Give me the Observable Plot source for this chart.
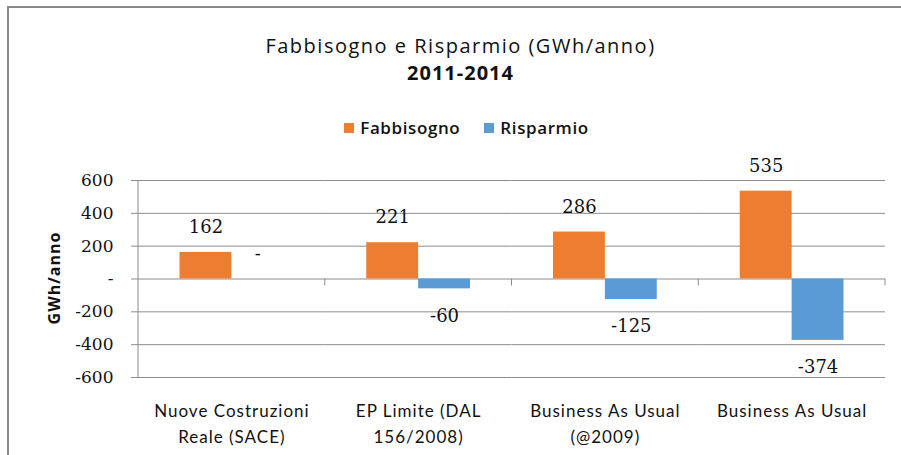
<!DOCTYPE html>
<html>
<head>
<meta charset="utf-8">
<script src="https://cdn.jsdelivr.net/npm/d3@7"></script>
<script src="https://cdn.jsdelivr.net/npm/@observablehq/plot@0.6"></script>
<style>
  html, body { margin: 0; padding: 0; background: #fff; }
  #wrap { position: relative; width: 901px; height: 455px; overflow: hidden; background: #fff; }
  #border { position: absolute; left: 7px; top: 6px; right: -10px; bottom: -10px; border-top: 2px solid #8a8a8a; border-left: 2px solid #8a8a8a; }
  #title { position: absolute; left: 10px; width: 901px; top: 32px; text-align: center; font-family: "Open Sans", sans-serif; color: #111; line-height: 27px; }
  #title .l1 { font-size: 20px; letter-spacing: 1.5px; }
  #title .l2 { font-size: 20px; font-weight: 700; letter-spacing: 1px; }
  #legend { position: absolute; left: 16px; width: 901px; top: 116px; text-align: center; font-family: "Open Sans", sans-serif; font-size: 17px; font-weight: 600; color: #111; letter-spacing: 0.6px; }
  #legend span.sw { display: inline-block; width: 10px; height: 10px; margin-right: 6px; vertical-align: 1px; }
  #legend span.item { margin: 0 12px; }
  #chart { position: absolute; left: 0; top: 0; }
  #ylabel { position: absolute; left: 54px; top: 278px; transform: translate(-50%, -50%) rotate(-90deg); font-family: "Open Sans", sans-serif; font-weight: 700; font-size: 16px; letter-spacing: 1px; color: #111; white-space: nowrap; }
  #chart text.cat { letter-spacing: 1px; }
</style>
</head>
<body>
<div id="wrap">
  <div id="border"></div>
  <div id="chart"></div>
  <div id="title"><div class="l1">Fabbisogno e Risparmio (GWh/anno)</div><div class="l2">2011-2014</div></div>
  <div id="legend"></div>
  <div id="ylabel">GWh/anno</div>
</div>
<script>
// ---- data ----
const categories = ["Nuove Costruzioni\nReale (SACE)", "EP Limite (DAL\n156/2008)", "Business As Usual\n(@2009)", "Business As Usual"];
const series = ["Fabbisogno", "Risparmio"];
const fabbisogno = [162, 221, 286, 535];
const risparmio = [0, -60, -125, -374];
const colors = ["#ED7D31", "#5B9BD5"];
const yTicks = [-600, -400, -200, 0, 200, 400, 600];

const rows = [];
categories.forEach((c, i) => {
  rows.push({cat: c, series: series[0], value: fabbisogno[i]});
  rows.push({cat: c, series: series[1], value: risparmio[i]});
});
const fmt = v => v === 0 ? "-" : String(v);

// legend
const legend = document.getElementById("legend");
legend.innerHTML = series.map((s, i) =>
  `<span class="item"><span class="sw" style="background:${colors[i]}"></span>${s}</span>`).join("");

const serif = "'DejaVu Serif', serif";

const chart = Plot.plot({
  width: 901,
  height: 455,
  marginLeft: 138,
  marginRight: 16,
  marginTop: 180,
  marginBottom: 78,
  style: {background: "transparent", overflow: "visible"},
  fx: {domain: categories, padding: 0, round: false},
  x: {domain: series, paddingInner: 0, paddingOuter: 0.8, round: false, axis: null},
  y: {domain: [yTicks[0], yTicks[yTicks.length - 1]]},
  color: {domain: series, range: colors},
  marks: [
    Plot.gridY(yTicks, {stroke: "#8c8c8c", strokeOpacity: 1, strokeWidth: 1}),
    Plot.axisY(yTicks, {tickSize: 7, tickPadding: 18, stroke: "#8c8c8c", tickFormat: fmt, fontSize: 17, fontFamily: serif, fill: "#111", label: null}),
    Plot.axisFx({anchor: "bottom", tickSize: 0, tickPadding: 21, label: null, fontSize: 17, lineHeight: 1.53, fontFamily: "Lato, sans-serif", fill: "#111", className: "cat"}),
    Plot.barY(rows, {fx: "cat", x: "series", y: "value", fill: "series"}),
    Plot.text(rows.filter(d => d.value >= 0), {fx: "cat", x: "series", y: "value", text: d => fmt(d.value), dy: -25, fontSize: 18, fontFamily: serif, fill: "#111"}),
    Plot.text(rows.filter(d => d.value < 0), {fx: "cat", x: "series", y: "value", text: d => fmt(d.value), dy: 27, fontSize: 18, fontFamily: serif, fill: "#111"}),
    Plot.frame({
      facet: "super",
      render: (index, scales, values, dimensions, context) => {
        const {fx, y} = scales;
        const g = d3.select(context.document.createElementNS("http://www.w3.org/2000/svg", "g"))
          .attr("stroke", "#8c8c8c").attr("stroke-width", 1);
        const top = dimensions.marginTop;
        const bottom = dimensions.height - dimensions.marginBottom;
        const left = fx(categories[0]);
        g.append("line").attr("x1", left).attr("x2", left).attr("y1", top).attr("y2", bottom);
        const y0 = y ? y(0) : top + (bottom - top) / 2;
        categories.forEach(c => {
          const xr = fx(c) + fx.bandwidth();
          g.append("line").attr("x1", xr).attr("x2", xr).attr("y1", y0).attr("y2", y0 + 7);
        });
        return g.node();
      }
    })
  ]
});
chart.querySelectorAll("[aria-label='fx-axis tick label'] text").forEach(t => t.style.letterSpacing = "1px");
document.getElementById("chart").appendChild(chart);
</script>
</body>
</html>
